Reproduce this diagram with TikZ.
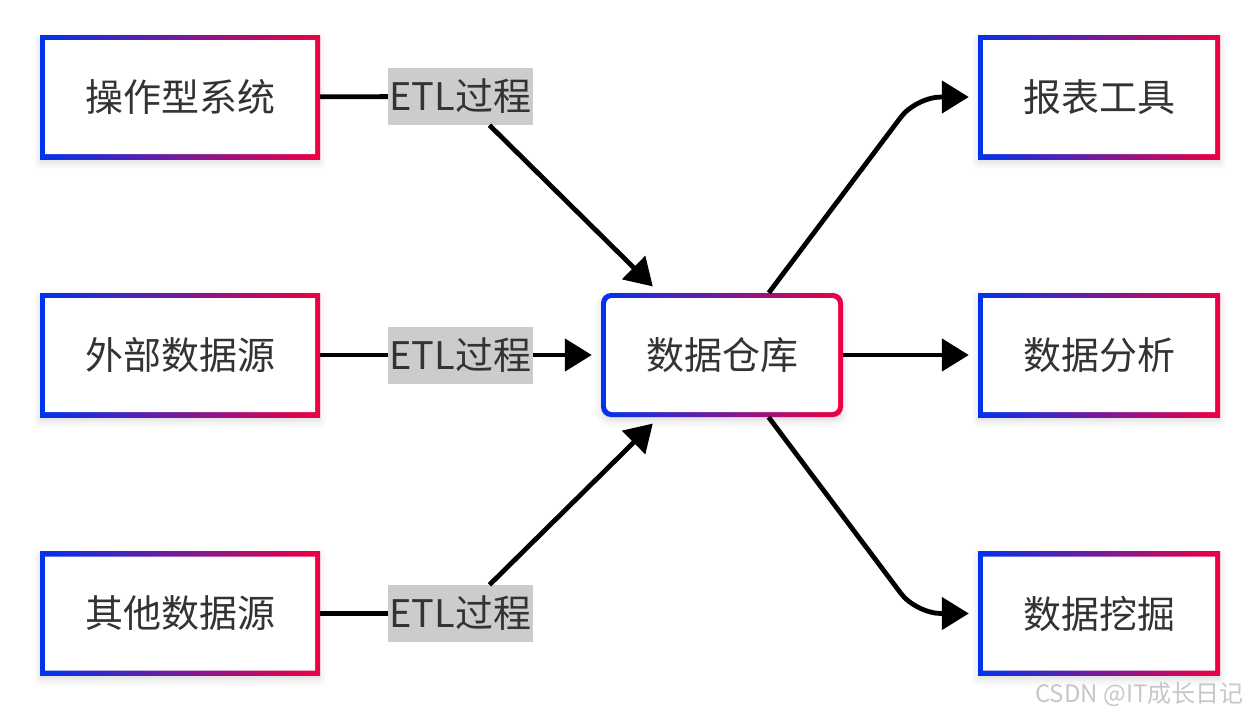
\documentclass[tikz,border=0pt]{standalone}
\usepackage{fontspec}
\setmainfont{Noto Sans CJK SC}
\usetikzlibrary{arrows.meta,shadows.blur}
\definecolor{gblue}{RGB}{0,51,238}
\definecolor{gred}{RGB}{238,0,68}
\definecolor{ink}{RGB}{51,51,51}
\definecolor{tagfill}{RGB}{204,204,204}

% gradient frame painted inside a node: shaded fill, then a white inset
\newcommand\gradframe[1]{%
  \shade[left color=gblue, right color=gred]
    (path picture bounding box.south west) rectangle (path picture bounding box.north east);
  \fill[white, rounded corners=#1]
    ([shift={(5pt,5pt)}]path picture bounding box.south west) rectangle
    ([shift={(-5pt,-5pt)}]path picture bounding box.north east);}

\tikzset{
  frame/.style={inner sep=0pt, text=ink, font=\fontsize{38}{44}\selectfont,
    blur shadow={shadow xshift=0pt, shadow yshift=-4pt, shadow blur radius=7pt, shadow opacity=14}},
  srcbox/.style={frame, minimum width=280pt, minimum height=124pt, path picture={\gradframe{0.01pt}}},
  outbox/.style={frame, minimum width=242pt, minimum height=124pt, path picture={\gradframe{0.01pt}}},
  hubbox/.style={frame, minimum width=242pt, minimum height=124pt, rounded corners=10pt,
    path picture={\gradframe{6pt}}},
  tagbox/.style={fill=tagfill, inner sep=0pt, minimum width=145pt, minimum height=57pt,
    text=ink, font=\fontsize{38}{44}\selectfont},
  link/.style={line width=4.8pt},
  arr/.style={line width=4.8pt, -{Triangle[length=27pt,width=32pt]}, shorten >=9pt},
}

\begin{document}
\begin{tikzpicture}[x=1pt, y=-1pt]
  \useasboundingbox (0,0) rectangle (1252,716);

  % sources
  \node[srcbox] (s1) at (180,97)    {操作型系统};
  \node[srcbox] (s2) at (180,355)   {外部数据源};
  \node[srcbox] (s3) at (180,613.5) {其他数据源};

  % warehouse
  \node[hubbox] (dw) at (722,355) {数据仓库};

  % consumers
  \node[outbox] (r1) at (1099,97)    {报表工具};
  \node[outbox] (r2) at (1099,355)   {数据分析};
  \node[outbox] (r3) at (1099,613.5) {数据挖掘};

  % ETL labels
  \node[tagbox] (e1) at (460.5,96.5)  {ETL过程};
  \node[tagbox] (e2) at (460.5,355)   {ETL过程};
  \node[tagbox] (e3) at (460.5,613.5) {ETL过程};

  % bend points of the outer consumer links
  \coordinate (k1) at (916,97);
  \coordinate (k3) at (916,613.5);

  % connectors into the warehouse
  \draw[link] (s1) -- (e1);
  \draw[link] (s2) -- (e2);
  \draw[link] (s3) -- (e3);
  \draw[arr] (e1) -- (dw);
  \draw[arr] (e2) -- (dw);
  \draw[arr] (e3) -- (dw);

  % connectors out of the warehouse
  \draw[arr, rounded corners=25pt] (dw) -- (k1) -- (r1);
  \draw[arr] (dw) -- (r2);
  \draw[arr, rounded corners=25pt] (dw) -- (k3) -- (r3);

  % watermark
  \node[text=black!22, font=\fontsize{24}{27}\selectfont, anchor=east] (wm) at (1247,694) {CSDN @IT成长日记};
\end{tikzpicture}
\end{document}
